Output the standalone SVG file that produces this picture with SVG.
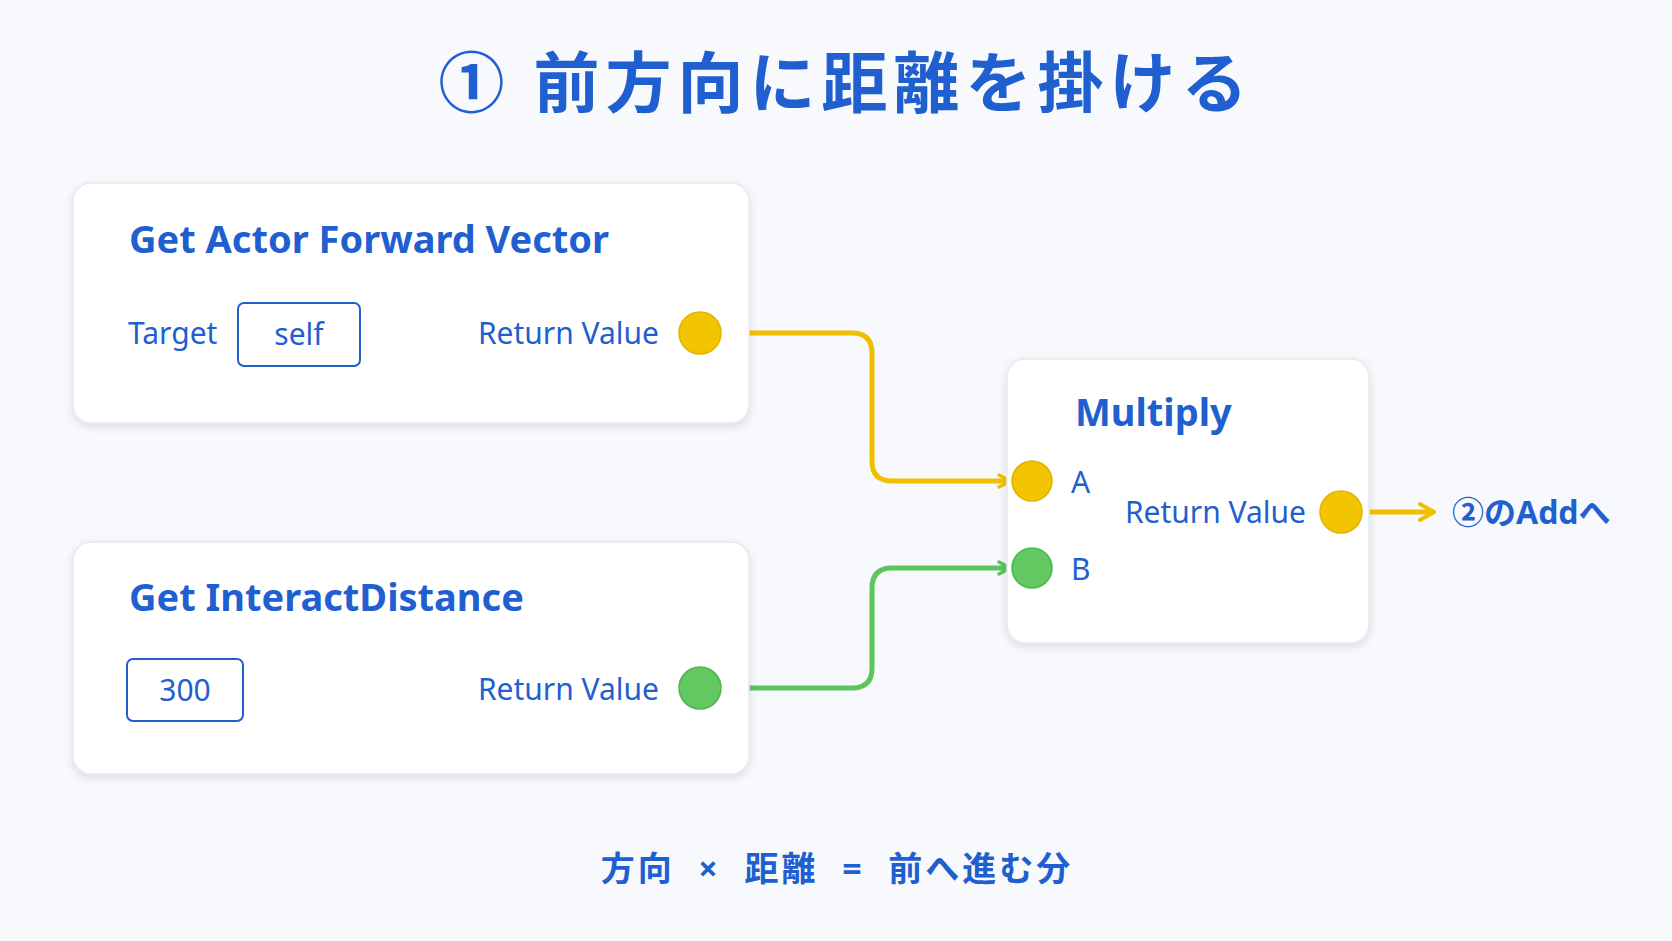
<svg xmlns="http://www.w3.org/2000/svg" width="1672" height="941" viewBox="0 0 1672 941">
<defs>
<filter id="sh" x="-10%" y="-10%" width="120%" height="130%"><feDropShadow dx="0" dy="3" stdDeviation="4" flood-color="#000" flood-opacity="0.12"/></filter>
<marker id="ay" viewBox="0 0 16 16" refX="14" refY="8" markerWidth="16" markerHeight="16" markerUnits="userSpaceOnUse" orient="auto"><path d="M3 2 L14 8 L3 14" fill="none" stroke="#f0c000" stroke-width="3.5" stroke-linecap="round"/></marker>
<marker id="ag" viewBox="0 0 16 16" refX="14" refY="8" markerWidth="16" markerHeight="16" markerUnits="userSpaceOnUse" orient="auto"><path d="M3 2 L14 8 L3 14" fill="none" stroke="#5cc65c" stroke-width="3.5" stroke-linecap="round"/></marker>
<marker id="ao" viewBox="0 0 20 20" refX="18" refY="10" markerWidth="20" markerHeight="20" markerUnits="userSpaceOnUse" orient="auto"><path d="M4 2 L18 10 L4 18" fill="none" stroke="#f0c000" stroke-width="4" stroke-linecap="round"/></marker>
</defs>
<style>
text{font-family:"Noto Sans","Noto Sans CJK JP",sans-serif;fill:#1f5fcf}
.card{fill:#fff;stroke:#e6e9ef;stroke-width:1.5;filter:url(#sh)}
.t{font-size:38px;font-weight:700}
.l{font-size:30px}
.box{fill:#fff;stroke:#1f5fcf;stroke-width:2}
.py{fill:#f2c500;stroke:#e0b400;stroke-width:1.5}
.pg{fill:#62c862;stroke:#4fb54f;stroke-width:1.5}
</style>
<rect width="1672" height="941" fill="#f7f9fc"/>
<text x="846" y="107" text-anchor="middle" font-size="66" font-weight="700" letter-spacing="6">① 前方向に距離を掛ける</text>
<g id="connectors" fill="none" stroke-width="5">
<path d="M700 333 H852 Q872 333 872 353 V461 Q872 481 892 481 H1010" stroke="#f0c000" marker-end="url(#ay)"/>
<path d="M700 688 H852 Q872 688 872 668 V588 Q872 568 892 568 H1010" stroke="#5cc65c" marker-end="url(#ag)"/>
<path d="M1341 512 H1434" stroke="#f0c000" marker-end="url(#ao)"/>
</g>
<g id="node-forward">
<rect class="card" x="73" y="183" width="676" height="240" rx="18"/>
<text class="t" x="129" y="253">Get Actor Forward Vector</text>
<text class="l" x="128" y="344">Target</text>
<rect class="box" x="238" y="303" width="122" height="63" rx="6"/>
<text class="l" x="299" y="345" text-anchor="middle">self</text>
<text class="l" x="659" y="344" text-anchor="end">Return Value</text>
<circle class="py" cx="700" cy="333" r="21"/>
</g>
<g id="node-distance">
<rect class="card" x="73" y="542" width="676" height="232" rx="18"/>
<text class="t" x="129" y="611">Get InteractDistance</text>
<rect class="box" x="127" y="659" width="116" height="62" rx="6"/>
<text class="l" x="185" y="701" text-anchor="middle">300</text>
<text class="l" x="659" y="700" text-anchor="end">Return Value</text>
<circle class="pg" cx="700" cy="688" r="21"/>
</g>
<g id="node-multiply">
<rect class="card" x="1007" y="359" width="362" height="284" rx="18"/>
<text class="t" x="1075" y="426">Multiply</text>
<circle class="py" cx="1032" cy="481" r="20"/>
<text class="l" x="1071" y="493">A</text>
<circle class="pg" cx="1032" cy="568" r="20"/>
<text class="l" x="1071" y="580">B</text>
<text class="l" x="1306" y="523" text-anchor="end" font-size="29">Return Value</text>
<circle class="py" cx="1341" cy="512" r="21"/>
</g>
<text x="1452" y="524" font-size="32" font-weight="700">②のAddへ</text>
<text x="837" y="881" text-anchor="middle" font-size="34" font-weight="700" letter-spacing="3" xml:space="preserve">方向  ×  距離  =  前へ進む分</text>
</svg>
